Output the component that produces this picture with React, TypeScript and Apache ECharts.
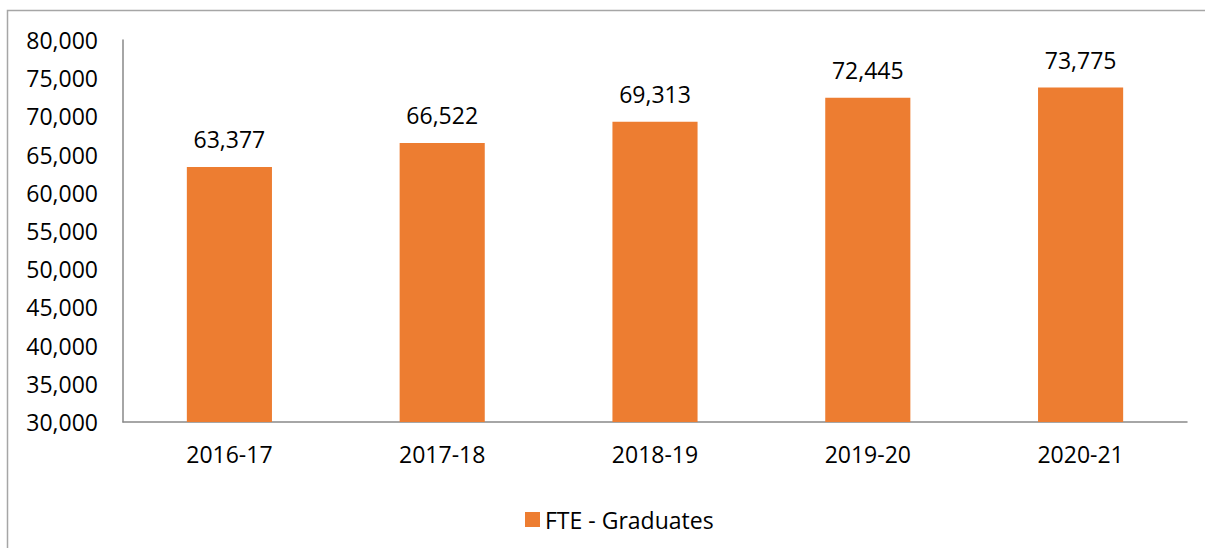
import React, { useEffect, useRef } from "react";
import * as echarts from "echarts";

const categories = ["2016-17", "2017-18", "2018-19", "2019-20", "2020-21"];
const graduates = [63377, 66522, 69313, 72445, 73775];
const seriesName = "FTE - Graduates";

const FONT = "'Open Sans', sans-serif";

export default function App() {
  const ref = useRef<HTMLDivElement>(null);
  useEffect(() => {
    if (!ref.current) return;
    const chart = echarts.init(ref.current, undefined, { renderer: "svg" });
    chart.setOption({
      animation: false,
      backgroundColor: "#ffffff",
      textStyle: { fontFamily: FONT },
      graphic: [
        {
          type: "rect",
          shape: { x: 7.5, y: 10.5, width: 1300, height: 700 },
          style: { fill: "none", stroke: "#a6a6a6", lineWidth: 1.5 },
          silent: true,
        },
      ],
      grid: { left: 123, top: 40, right: 18, bottom: 126, containLabel: false },
      legend: {
        data: [seriesName],
        left: 520,
        top: 503,
        itemWidth: 15,
        itemHeight: 15,
        icon: "rect",
        itemGap: 6,
        textStyle: { fontSize: 23, color: "#000", fontFamily: FONT },
      },
      xAxis: {
        type: "category",
        data: categories,
        axisLine: { lineStyle: { color: "#898989", width: 1.5 } },
        axisTick: { show: false },
        axisLabel: { fontSize: 23, color: "#000", margin: 20, fontFamily: FONT },
      },
      yAxis: {
        type: "value",
        min: 30000,
        max: 80000,
        interval: 5000,
        splitLine: { show: false },
        axisLine: { show: true, lineStyle: { color: "#898989", width: 1.5 } },
        axisTick: { show: false },
        axisLabel: {
          fontSize: 23,
          color: "#000",
          margin: 25,
          fontFamily: FONT,
          formatter: (v: number) => v.toLocaleString("en-US"),
        },
      },
      series: [
        {
          name: seriesName,
          type: "bar",
          data: graduates,
          barWidth: "40%",
          itemStyle: { color: "#ED7D31" },
          label: {
            show: true,
            position: "top",
            distance: 16,
            fontSize: 23,
            color: "#000",
            fontFamily: FONT,
            formatter: (p: any) => Number(p.value).toLocaleString("en-US"),
          },
        },
      ],
    });
    return () => chart.dispose();
  }, []);
  return (
    <div
      ref={ref}
      style={{ position: "fixed", left: 0, top: 0, width: 1205, height: 548 }}
    />
  );
}
